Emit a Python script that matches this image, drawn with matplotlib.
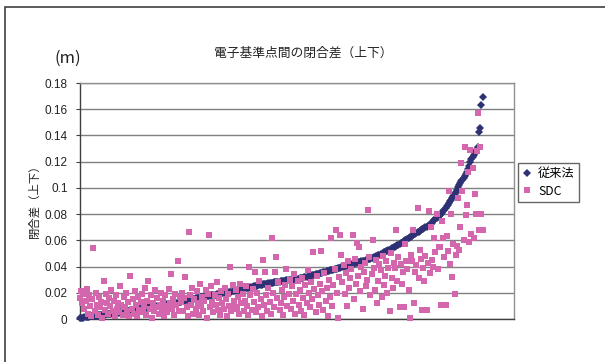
import numpy as np
import matplotlib
matplotlib.use("Agg")
import matplotlib.pyplot as plt
from matplotlib.patches import Rectangle

plt.rcParams['font.family'] = ['Liberation Sans', 'Noto Sans CJK JP', 'DejaVu Sans']
CJK = ['Noto Sans CJK JP', 'DejaVu Sans']

# Closure differences (vertical) between GNSS reference stations, in metres
conventional = [
    0.0005, 0.0008, 0.001, 0.0011, 0.0012, 0.0014, 0.0015, 0.0016, 0.0018, 0.002,
    0.0021, 0.0022, 0.0023, 0.0024, 0.0025, 0.0026, 0.0027, 0.0028, 0.003,
    0.0031, 0.0032, 0.0033, 0.0034, 0.0035, 0.0036, 0.0037, 0.0038, 0.0039, 0.004,
    0.0041, 0.0042, 0.0043, 0.0044, 0.0045, 0.0046, 0.0048, 0.005,
    0.0052, 0.0054, 0.0055, 0.0057, 0.0058, 0.006, 0.0062, 0.0063, 0.0065, 0.0067,
    0.0068, 0.007, 0.0072, 0.0074, 0.0076, 0.0078, 0.008,
    0.0081, 0.0082, 0.0083, 0.0084, 0.0085, 0.0086, 0.0087, 0.0088, 0.0089, 0.009,
    0.0091, 0.0092, 0.0093, 0.0094, 0.0095, 0.0097, 0.0098, 0.01,
    0.0102, 0.0103, 0.0105, 0.0107, 0.0108, 0.011, 0.0112, 0.0113, 0.0115, 0.0117,
    0.0118, 0.012, 0.0122, 0.0123, 0.0125, 0.0127, 0.0128, 0.013,
    0.0132, 0.0134, 0.0136, 0.0138, 0.014, 0.0142, 0.0144, 0.0146, 0.0148, 0.015,
    0.0152, 0.0154, 0.0156, 0.0158, 0.016, 0.0161, 0.0163, 0.0165,
    0.0166, 0.0168, 0.0169, 0.0171, 0.0172, 0.0174, 0.0175, 0.0177, 0.0178, 0.018,
    0.0181, 0.0183, 0.0184, 0.0186, 0.0187, 0.0189, 0.019, 0.0192, 0.0193, 0.0195,
    0.0196, 0.0198, 0.0199, 0.0201, 0.0202, 0.0204, 0.0206, 0.0208, 0.021,
    0.0212, 0.0214, 0.0216, 0.0218, 0.022, 0.0222, 0.0224, 0.0226, 0.0228, 0.023,
    0.0232, 0.0234, 0.0236, 0.0238, 0.024, 0.0242, 0.0244, 0.0246, 0.0248, 0.025,
    0.0252, 0.0254, 0.0256, 0.0258, 0.026, 0.0262, 0.0264, 0.0266, 0.0267, 0.0269,
    0.027,
    0.0271, 0.0273, 0.0274, 0.0276, 0.0277, 0.0279, 0.028, 0.0282, 0.0283, 0.0284,
    0.0286, 0.0287, 0.0288, 0.029, 0.0291, 0.0292, 0.0294, 0.0295, 0.0296, 0.0298,
    0.0299, 0.03, 0.0301, 0.0302, 0.0304, 0.0305, 0.0307, 0.0308, 0.031,
    0.0312, 0.0314, 0.0316, 0.0318, 0.032, 0.0322, 0.0324, 0.0326, 0.0328, 0.033,
    0.0333, 0.0335, 0.0337, 0.034, 0.0342, 0.0344, 0.0347, 0.0349, 0.0351, 0.0354,
    0.0356, 0.0358, 0.0361, 0.0363, 0.0365, 0.0368, 0.037, 0.0373, 0.0375,
    0.0377, 0.038, 0.0382, 0.0384, 0.0387, 0.0389, 0.0392, 0.0394, 0.0396, 0.0399,
    0.0401, 0.0404, 0.0406, 0.0409, 0.0411, 0.0414, 0.0416, 0.0419, 0.0421, 0.0424,
    0.0426, 0.0429, 0.0431, 0.0434, 0.0436, 0.0439, 0.0441, 0.0444, 0.0446, 0.0448,
    0.045,
    0.0454, 0.0457, 0.0461, 0.0464, 0.0468, 0.0471, 0.0475, 0.0479, 0.0482, 0.0486,
    0.049,
    0.0494, 0.0499, 0.0503, 0.0508, 0.0512, 0.0517, 0.0521, 0.0526, 0.053, 0.0535,
    0.0539, 0.0543, 0.0548, 0.0552, 0.0557, 0.0561, 0.0566, 0.057,
    0.0576, 0.0582, 0.0588, 0.0594, 0.06, 0.0606, 0.0611, 0.0617, 0.0623, 0.0629,
    0.0634, 0.064,
    0.0645, 0.0651, 0.0656, 0.0662, 0.0667, 0.0673, 0.0678, 0.0684, 0.0689, 0.0695,
    0.07, 0.0705, 0.071, 0.0715, 0.072,
    0.0728, 0.0736, 0.0744, 0.0752, 0.076, 0.0769, 0.0777, 0.0785, 0.0793, 0.0802,
    0.081,
    0.0822, 0.0834, 0.0847, 0.0859, 0.0872, 0.0884, 0.0897, 0.0909, 0.092,
    0.0937, 0.0953, 0.097, 0.0987, 0.1003, 0.102,
    0.1034, 0.1049, 0.1063, 0.1077, 0.1091, 0.1106, 0.112,
    0.1145, 0.117, 0.1195, 0.122,
    0.1235, 0.125, 0.1265, 0.128, 0.1295, 0.131,
    0.143, 0.146, 0.1635, 0.1695,
]

sdc = [
    0.016, 0.021, 0.012, 0.019, 0.008, 0.014, 0.023, 0.004, 0.018, 0.010,
    0.002, 0.015, 0.054, 0.006, 0.020, 0.011, 0.003, 0.017, 0.009, 0.013,
    0.001, 0.029, 0.007, 0.019, 0.012, 0.004, 0.016, 0.010, 0.022, 0.006,
    0.014, 0.002, 0.018, 0.008, 0.012, 0.005, 0.025, 0.011, 0.003, 0.017,
    0.009, 0.020, 0.006, 0.013, 0.002,
    0.033, 0.008, 0.015, 0.004, 0.021, 0.011, 0.002, 0.017, 0.007, 0.013,
    0.019, 0.005, 0.010, 0.024, 0.003, 0.014, 0.029, 0.008, 0.018, 0.001,
    0.012, 0.006, 0.022, 0.009, 0.016, 0.004, 0.011, 0.020, 0.007, 0.014,
    0.002, 0.018, 0.010, 0.005, 0.023, 0.012, 0.034, 0.008, 0.015, 0.003,
    0.019, 0.011, 0.044, 0.006, 0.017,
    0.013, 0.020, 0.006, 0.016, 0.032, 0.009, 0.002, 0.066, 0.018, 0.011,
    0.024, 0.004, 0.015, 0.008, 0.021, 0.012, 0.003, 0.027, 0.010, 0.017,
    0.006, 0.014, 0.022, 0.001, 0.019, 0.064, 0.009, 0.025, 0.013, 0.005,
    0.018, 0.011, 0.028, 0.007, 0.016, 0.003, 0.021, 0.012, 0.008, 0.024,
    0.015, 0.002, 0.019, 0.010, 0.040, 0.006, 0.026, 0.014, 0.009,
    0.022, 0.008, 0.017, 0.004, 0.027, 0.012, 0.019, 0.006, 0.014, 0.025,
    0.010, 0.003, 0.040, 0.018, 0.007, 0.023, 0.013, 0.036, 0.005, 0.020,
    0.009, 0.029, 0.015, 0.002, 0.045, 0.011, 0.036, 0.018, 0.006, 0.024,
    0.013, 0.004, 0.062, 0.020, 0.009, 0.036, 0.047, 0.016, 0.028, 0.007,
    0.012, 0.022, 0.003, 0.017, 0.026, 0.038, 0.010, 0.019, 0.030,
    0.008, 0.025, 0.014, 0.034, 0.004, 0.019, 0.029, 0.011, 0.022, 0.006,
    0.031, 0.016, 0.003, 0.026, 0.012, 0.037, 0.020, 0.009, 0.028, 0.015,
    0.051, 0.023, 0.005, 0.033, 0.018, 0.011, 0.027, 0.052, 0.021, 0.007,
    0.035, 0.014, 0.024, 0.002, 0.030, 0.017, 0.062, 0.010, 0.026, 0.038,
    0.068, 0.020, 0.001, 0.032,
    0.064, 0.049, 0.028, 0.041, 0.019, 0.035, 0.010, 0.044, 0.024, 0.031,
    0.038, 0.064, 0.015, 0.046, 0.027, 0.058, 0.033, 0.055, 0.021, 0.040,
    0.008, 0.036, 0.043, 0.025, 0.030, 0.083, 0.047, 0.018, 0.034, 0.060,
    0.039, 0.022, 0.045, 0.012, 0.029, 0.042, 0.037, 0.017, 0.048, 0.026,
    0.033, 0.044, 0.020, 0.039, 0.006, 0.050, 0.031, 0.024, 0.043,
    0.039, 0.068, 0.029, 0.047, 0.009, 0.042, 0.027, 0.036, 0.009, 0.057,
    0.044, 0.038, 0.022, 0.001, 0.049, 0.044, 0.068, 0.012, 0.036, 0.041,
    0.085, 0.031, 0.053, 0.046, 0.007, 0.039, 0.029, 0.048, 0.007, 0.043,
    0.082, 0.035, 0.070, 0.045, 0.040, 0.062, 0.051, 0.080, 0.038, 0.055,
    0.055, 0.011, 0.075, 0.062, 0.047, 0.011, 0.063, 0.052, 0.098, 0.042,
    0.080, 0.032, 0.057, 0.019, 0.049, 0.056, 0.092, 0.053, 0.070, 0.119,
    0.098, 0.060, 0.131, 0.079, 0.087, 0.112, 0.059, 0.129, 0.065, 0.115,
    0.062, 0.095, 0.080, 0.128, 0.157, 0.068, 0.131, 0.080, 0.068,
]

series_labels = ['従来法', 'SDC']
y_ticks = [0, 0.02, 0.04, 0.06, 0.08, 0.1, 0.12, 0.14, 0.16, 0.18]
y_tick_labels = ['0', '0.02', '0.04', '0.06', '0.08', '0.1', '0.12', '0.14', '0.16', '0.18']
title = '電子基準点間の閉合差（上下）'
y_label = '閉合差（上下）'
unit = '(m)'

W, H = 605, 362
fig = plt.figure(figsize=(W / 100, H / 100), dpi=100)
fig.patch.set_facecolor('white')

# outer chart frame
fig.add_artist(Rectangle((5 / W, -0.1), 1.2, (H - 7) / H + 0.1,
                         transform=fig.transFigure, fill=False,
                         edgecolor='#404040', linewidth=1.2))

ax = fig.add_axes([80 / W, 1 - 319 / H, 434 / W, 236 / H])

x_conv = np.arange(len(conventional))
x_sdc = np.arange(len(sdc))
navy = '#2E3274'
pink = '#D366AC'

ax.plot(x_conv, conventional, linestyle='none', marker='D', markersize=4.0,
        color=navy, markeredgewidth=0, label=series_labels[0], clip_on=False, zorder=3)
ax.plot(x_sdc, sdc, linestyle='none', marker='s', markersize=4.3,
        color=pink, markeredgewidth=0, label=series_labels[1], clip_on=False, zorder=4)

ax.set_xlim(0, 387)
ax.set_ylim(0, 0.18)
ax.set_yticks(y_ticks)
ax.set_yticklabels(y_tick_labels, fontsize=8.5, color='#222222')
ax.set_xticks([])
ax.tick_params(axis='y', direction='out', length=3, width=0.8, color='#404040', pad=6)

ax.grid(axis='y', color='#808080', linewidth=1.0)
ax.set_axisbelow(True)
for side in ['top', 'right']:
    ax.spines[side].set_color('#909090')
    ax.spines[side].set_linewidth(1.0)
for side in ['left', 'bottom']:
    ax.spines[side].set_color('#404040')
    ax.spines[side].set_linewidth(1.0)

fig.text(303 / W, 1 - 53 / H, title, ha='center', va='center',
         fontsize=9.2, family=CJK, color='#222222')
fig.text(68 / W, 1 - 58 / H, unit, ha='center', va='center',
         fontsize=12, family=CJK, color='#222222')
fig.text(34 / W, 1 - 198 / H, y_label, ha='center', va='center', rotation=90,
         fontsize=8.2, family=CJK, color='#222222')

leg = ax.legend(loc='upper left', bbox_to_anchor=(518 / W, 1 - 163 / H),
                bbox_transform=fig.transFigure, borderaxespad=0,
                fancybox=False, frameon=True, handlelength=0.8,
                handletextpad=0.5, labelspacing=0.35, borderpad=0.35,
                prop={'family': CJK, 'size': 8.8}, markerscale=1.0)
leg.get_frame().set_edgecolor('#404040')
leg.get_frame().set_linewidth(1.0)

fig.savefig('out.png', dpi=100, facecolor='white')
